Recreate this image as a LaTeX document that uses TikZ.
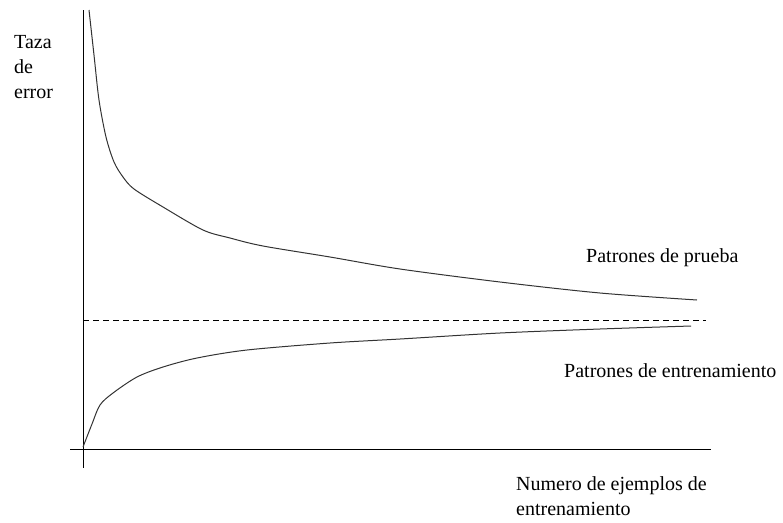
\documentclass[tikz,border=0pt]{standalone}
\usepackage{fontspec}
\setmainfont{Liberation Serif}
\begin{document}
\begin{tikzpicture}[x=1pt,y=-1pt,
  lbl/.style={inner sep=0pt,font=\fontsize{20}{25}\selectfont},
  curve/.style={line width=1pt,black!80}]
\useasboundingbox (0,0) rectangle (783,522);
% axes
\draw[line width=1pt] (83,10) -- (83,468);
\draw[line width=1pt] (70,449) -- (711,449);
% dashed asymptote
\draw[line width=0.9pt,dash pattern=on 6pt off 4pt] (83,320) -- (706,320);
% test curve
\draw[curve] plot[smooth,tension=0.5] coordinates {(89,10) (94,55) (99,100) (106,137) (114,162) (123,177) (134,189) (163,207) (203,230) (230,238) (263,246) (330,257) (400,269) (500,282) (600,293) (697,300)};
% training curve
\draw[curve] plot[smooth,tension=0.5] coordinates {(83,447) (92,424) (100,405) (113,393) (137,377) (163,367) (197,358) (247,350) (330,343) (400,339) (500,333) (600,329) (691,326)};
% labels
\node[lbl,anchor=north west,align=left] (ylab) at (14,35) {Taza\\de\\error};
\node[lbl,anchor=base west] (prueba) at (586,262) {Patrones de prueba};
\node[lbl,anchor=base west] (entren) at (564,377) {Patrones de entrenamiento};
\node[lbl,anchor=north west,align=left] (xlab) at (516,476) {Numero de ejemplos de\\entrenamiento};
\end{tikzpicture}
\end{document}
